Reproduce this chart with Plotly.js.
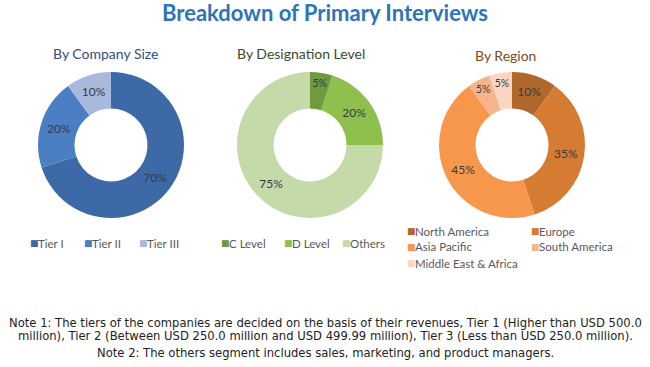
<!DOCTYPE html>
<html>
<head>
<meta charset="utf-8">
<script src="https://cdn.plot.ly/plotly-3.0.1.min.js"></script>
<style>html,body{margin:0;padding:0;background:#fff;}#chart{width:650px;height:367px;}</style>
</head>
<body>
<div id="chart"></div>
<script>
// Data
var companyLabels = ["Tier I", "Tier II", "Tier III"];
var companyValues = [70, 20, 10];
var companyColors = ["#3d6aa6", "#4a7fc4", "#a8b9db"];

var designationLabels = ["C Level", "D Level", "Others"];
var designationValues = [5, 20, 75];
var designationColors = ["#6e9b3f", "#8fbf4c", "#c4daa9"];

var regionLabels = ["North America", "Europe", "Asia Pacific", "South America", "Middle East & Africa"];
var regionValues = [10, 35, 45, 5, 5];
var regionColors = ["#b1682c", "#d67b32", "#f7974b", "#f5b48b", "#fbd6c2"];

var W = 650, H = 367;
function dx(a, b) { return [a / W, b / W]; }
function dy(top, bottom) { return [1 - bottom / H, 1 - top / H]; }

var textFont = {family: "Lato, 'Open Sans', sans-serif", size: 12, color: "#353a45"};

function pie(labels, values, colors, xs) {
  return {
    type: "pie",
    labels: labels,
    values: values,
    marker: {colors: colors, line: {color: "#ffffff", width: 0}},
    hole: 0.5,
    sort: false,
    direction: "clockwise",
    rotation: 0,
    textinfo: "percent",
    texttemplate: "%{value}%",
    textposition: "inside",
    insidetextorientation: "horizontal",
    insidetextfont: textFont,
    domain: {x: xs, y: dy(72, 218)},
    showlegend: false,
    hoverinfo: "skip"
  };
}

var data = [
  pie(companyLabels, companyValues, companyColors, dx(38, 184)),
  pie(designationLabels, designationValues, designationColors, dx(237, 383)),
  pie(regionLabels, regionValues, regionColors, dx(439, 585))
];

// Legend entries (layout positions in pixels: [square x, row y])
var legendFont = {family: "Lato, 'Open Sans', sans-serif", size: 11.5, color: "#595959"};
var annotations = [];
function addLegend(labels, colors, pos) {
  for (var i = 0; i < labels.length; i++) {
    var p = pos[i];
    annotations.push({text: "\u25A0", x: p[0] / W, y: 1 - p[1] / H, xref: "paper", yref: "paper",
      showarrow: false, xanchor: "left", yanchor: "middle",
      font: {family: "'DejaVu Sans', sans-serif", size: 9, color: colors[i]}});
    annotations.push({text: labels[i], x: (p[0] + 8) / W, y: 1 - p[1] / H, xref: "paper", yref: "paper",
      showarrow: false, xanchor: "left", yanchor: "middle", font: legendFont});
  }
}
addLegend(companyLabels, companyColors, [[28, 243], [82, 243], [137, 243]]);
addLegend(designationLabels, designationColors, [[219, 243], [282, 243], [340, 243]]);
addLegend(regionLabels, regionColors, [[405, 231], [529, 231], [405, 247], [529, 247], [405, 263]]);

annotations.push(
  {text: "<b>Breakdown of Primary Interviews</b>", x: 325 / W, y: 1 - 12 / H, xref: "paper", yref: "paper",
    showarrow: false, font: {family: "Lato, sans-serif", size: 22, color: "#2e74b8"}, xanchor: "center", yanchor: "middle"},
  {text: "By Company Size", x: 105 / W, y: 1 - 53 / H, xref: "paper", yref: "paper", showarrow: false,
    font: {family: "Lato, sans-serif", size: 14, color: "#2f4f7a"}, xanchor: "center", yanchor: "middle"},
  {text: "By Designation Level", x: 301 / W, y: 1 - 53 / H, xref: "paper", yref: "paper", showarrow: false,
    font: {family: "Lato, sans-serif", size: 14, color: "#3b4a2e"}, xanchor: "center", yanchor: "middle"},
  {text: "By Region", x: 505 / W, y: 1 - 55 / H, xref: "paper", yref: "paper", showarrow: false,
    font: {family: "Lato, sans-serif", size: 14, color: "#7d4a24"}, xanchor: "center", yanchor: "middle"},
  {text: "Note 1: The tiers of the companies are decided on the basis of their revenues, Tier 1 (Higher than USD 500.0",
    x: 325 / W, y: 1 - 323 / H, xref: "paper", yref: "paper", showarrow: false,
    font: {family: "'DejaVu Sans', sans-serif", size: 11.6, color: "#222222"}, xanchor: "center", yanchor: "middle"},
  {text: "million), Tier 2 (Between USD 250.0 million and USD 499.99 million), Tier 3 (Less than USD 250.0 million).",
    x: 325 / W, y: 1 - 336 / H, xref: "paper", yref: "paper", showarrow: false,
    font: {family: "'DejaVu Sans', sans-serif", size: 11.6, color: "#222222"}, xanchor: "center", yanchor: "middle"},
  {text: "Note 2: The others segment includes sales, marketing, and product managers.",
    x: 325 / W, y: 1 - 353 / H, xref: "paper", yref: "paper", showarrow: false,
    font: {family: "'DejaVu Sans', sans-serif", size: 11.6, color: "#222222"}, xanchor: "center", yanchor: "middle"}
);

var layout = {
  width: W, height: H,
  margin: {l: 0, r: 0, t: 0, b: 0},
  paper_bgcolor: "#ffffff",
  font: {family: "Lato, sans-serif"},
  showlegend: false,
  annotations: annotations
};

Plotly.newPlot("chart", data, layout, {displayModeBar: false, staticPlot: true});
</script>
</body>
</html>
